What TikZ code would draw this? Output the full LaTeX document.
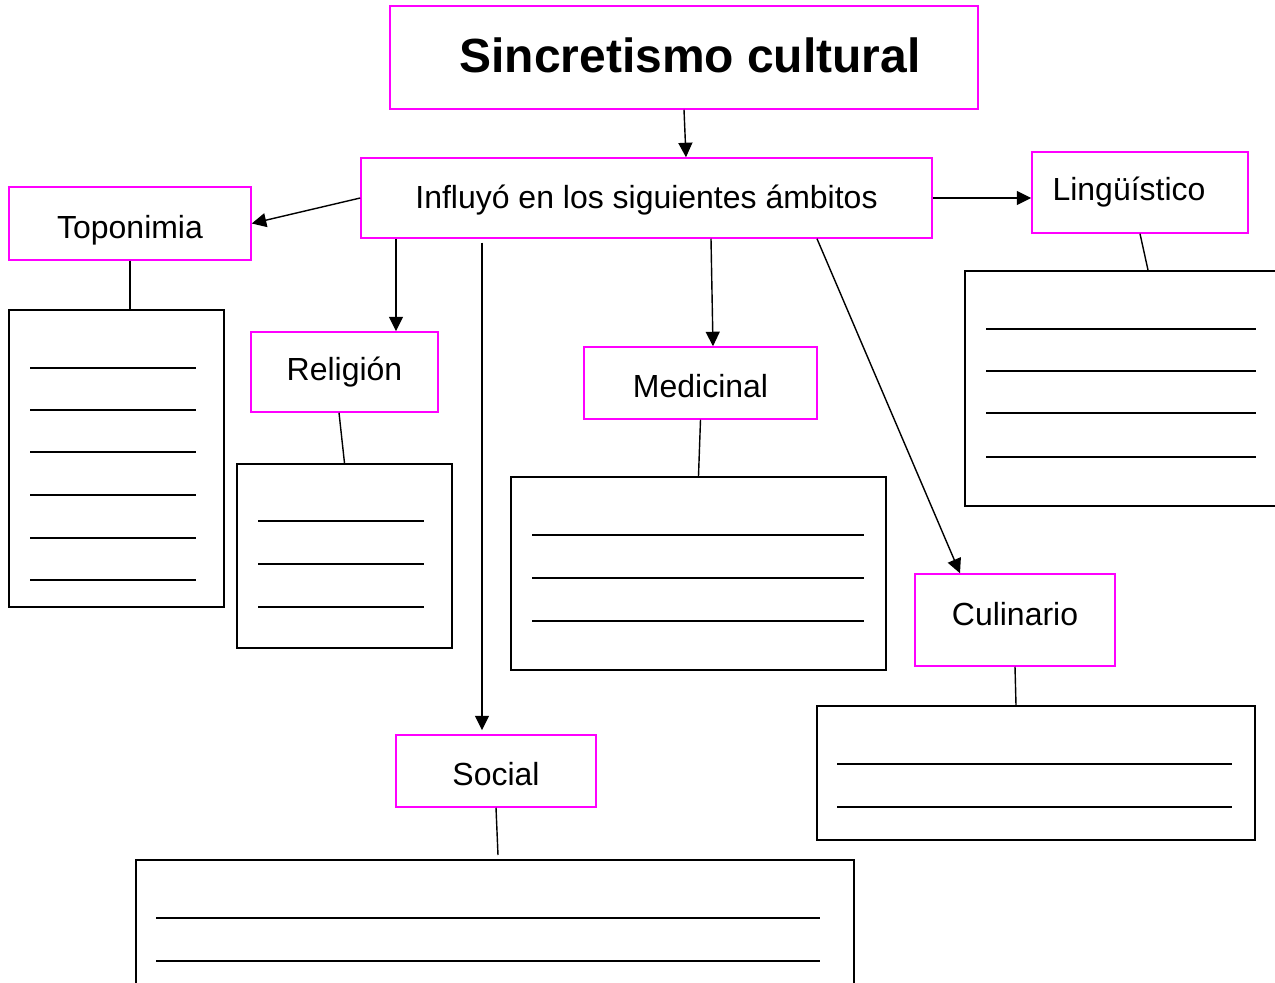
\documentclass[tikz,border=0pt]{standalone}
\usepackage{fontspec}
\setmainfont{Liberation Sans}
\usetikzlibrary{arrows.meta}
\definecolor{rosa}{RGB}{255,0,255}
\newcommand{\bajar}[2]{\raisebox{#1}[\height][\depth]{#2}}
\begin{document}
\begin{tikzpicture}[x=0.02cm,y=-0.02cm,
  tema/.style 2 args={draw=rosa, line width=0.85pt, inner sep=0pt,
    minimum width=#1*0.02cm, minimum height=#2*0.02cm,
    font=\fontsize{18.2}{20}\selectfont},
  lista/.style 2 args={draw, line width=1.1pt, inner sep=0pt,
    minimum width=#1*0.02cm, minimum height=#2*0.02cm},
  flecha/.style={-{Triangle[length=0.29cm,width=0.28cm]}, line width=0.8pt},
  enlace/.style={line width=0.8pt},
  raya/.style={line width=1.1pt}]
\useasboundingbox (0,0) rectangle (1275,983);
% titulo y nodo central
\node[tema={588}{103}, font=\fontsize{27.3}{30}\selectfont\bfseries] (sinc) at (684,57.5) {\hspace*{0.24cm}\bajar{0.04cm}{Sincretismo cultural}};
\node[tema={571}{80}] (infl) at (646.5,198) {\bajar{-0.04cm}{Influyó en los siguientes ámbitos}};
% ambitos
\node[tema={242}{73}] (topo) at (130,223.5) {\bajar{-0.14cm}{Toponimia}};
\node[tema={216}{81}] (ling) at (1140,192.5) {Lingüístico\hspace*{0.44cm}};
\node[tema={187}{80}] (reli) at (344.5,372) {Religión};
\node[tema={233}{72}] (medi) at (700.5,383) {\bajar{-0.06cm}{Medicinal}};
\node[tema={200}{92}] (culi) at (1015,620) {\bajar{0.12cm}{Culinario}};
\node[tema={200}{72}] (soci) at (496,771) {\bajar{-0.06cm}{Social}};
% cuadros para rellenar
\node[lista={215}{297}] (topol) at (116.5,458.5) {};
\node[lista={215}{184}] (relil) at (344.5,556) {};
\node[lista={375}{193}] (medil) at (698.5,573.5) {};
\node[lista={330}{235}] (lingl) at (1130,388.5) {};
\node[lista={438}{134}] (culil) at (1036,773) {};
\node[lista={718}{150}] (socil) at (495,935) {};
\foreach \y in {368,410,452,495,538,580} \draw[raya] (30,\y)--(196,\y);
\foreach \y in {521,564,607} \draw[raya] (258,\y)--(424,\y);
\foreach \y in {535,578,621} \draw[raya] (532,\y)--(864,\y);
\foreach \y in {329,371,413,457} \draw[raya] (986,\y)--(1256,\y);
\foreach \y in {764,807} \draw[raya] (837,\y)--(1232,\y);
\foreach \y in {918,961} \draw[raya] (156,\y)--(820,\y);
% flechas
\draw[flecha] (sinc.south)--(686,0 |- infl.north);
\draw[flecha] (infl.west)--(topo.east);
\draw[flecha] (infl.east)--(infl.east -| ling.west);
\draw[flecha] (396,0 |- infl.south)--(396,0 |- reli.north);
\draw[flecha, shorten <=4*0.02cm, shorten >=4*0.02cm] (482,0 |- infl.south)--(482,0 |- soci.north);
\draw[flecha] (711,0 |- infl.south)--(713,0 |- medi.north);
\draw[flecha] (817,0 |- infl.south)--(960,0 |- culi.north);
% lineas a los cuadros
\draw[enlace] (topo.south)--(topo.south |- topol.north);
\draw[enlace] (339,0 |- reli.south)--(relil.north);
\draw[enlace] (medi.south)--(medil.north);
\draw[enlace] (ling.south)--(1148,0 |- lingl.north);
\draw[enlace] (culi.south)--(1016,0 |- culil.north);
\draw[enlace] (soci.south)--(498,855);
\end{tikzpicture}
\end{document}
